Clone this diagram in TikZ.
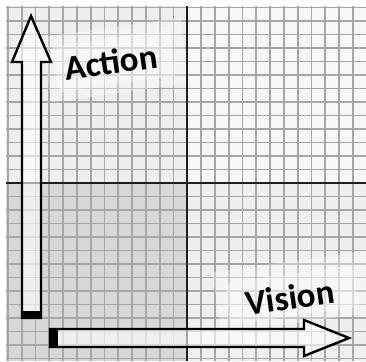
\documentclass[tikz,border=0pt]{standalone}
\usepackage{fontspec}
\setmainfont{Carlito}
\usepackage{xcolor}
\definecolor{gridline}{HTML}{A6A6A6}
\definecolor{axisline}{HTML}{1E1E1E}
\definecolor{quadTL}{HTML}{EEEEEE}
\definecolor{quadTR}{HTML}{F7F7F7}
\definecolor{quadBL}{HTML}{D7D7D7}
\definecolor{quadBR}{HTML}{EFEFEF}
\usepackage{tikz}
\tikzset{
  gridln/.style   = {draw=gridline, line width=1.8pt},
  axisln/.style   = {draw=axisline, line width=1.9pt},
  blockarr/.style = {draw=black, line width=2.4pt, fill=white,
                     fill opacity=0.6, line join=miter},
  patch/.style    = {fill=white, fill opacity=0.35},
  lbl/.style      = {font=\fontsize{35}{35}\selectfont\bfseries,
                     text=black, rotate=8}
}

\begin{document}
\begin{tikzpicture}[x=1pt, y=-1pt]
  \useasboundingbox (0,0) rectangle (366,361);
  % quadrants
  \fill[quadTL] (6,6) rectangle (187,183);
  \fill[quadTR] (187,6) rectangle (366,183);
  \fill[quadBL] (6,183) rectangle (187,361);
  \fill[quadBR] (187,183) rectangle (366,361);
  % grid
  \foreach \k in {0,...,25}
    \draw[gridln] (7.8+13.8*\k,6) -- (7.8+13.8*\k,361);
  \foreach \k in {1,...,13}{
    \draw[gridln] (6,183-13.5*\k) -- (366,183-13.5*\k);
    \draw[gridln] (6,183+13.5*\k) -- (366,183+13.5*\k);
  }
  % faded patches behind the labels
  \fill[patch, rotate around={8:(116,60)}] (46,27) rectangle (186,93);
  \fill[patch, rotate around={8:(114,61)}] (55,38) rectangle (173,84);
  \fill[patch, rotate around={8:(296,292)}] (216,261) rectangle (376,323);
  \fill[patch, rotate around={8:(292,295)}] (227,274) rectangle (357,316);
  % axes
  \draw[axisln] (187,6) -- (187,361);
  \draw[axisln] (6,183) -- (366,183);
  % block arrows
  \draw[blockarr] (22,318) -- (22,62) -- (12,62) -- (31,16) -- (51,62)
    -- (41,62) -- (41,318) -- cycle;
  \fill[black] (20.8,311) rectangle (42.2,319.2);
  \draw[blockarr] (50,329) -- (304,329) -- (304,320) -- (349,338)
    -- (304,356) -- (304,347) -- (50,347) -- cycle;
  \fill[black] (48.8,327.8) rectangle (58,348.2);
  % labels
  \node[lbl] (action) at (111,62) {Action};
  \node[lbl] (vision) at (290,297) {Vision};
\end{tikzpicture}
\end{document}
